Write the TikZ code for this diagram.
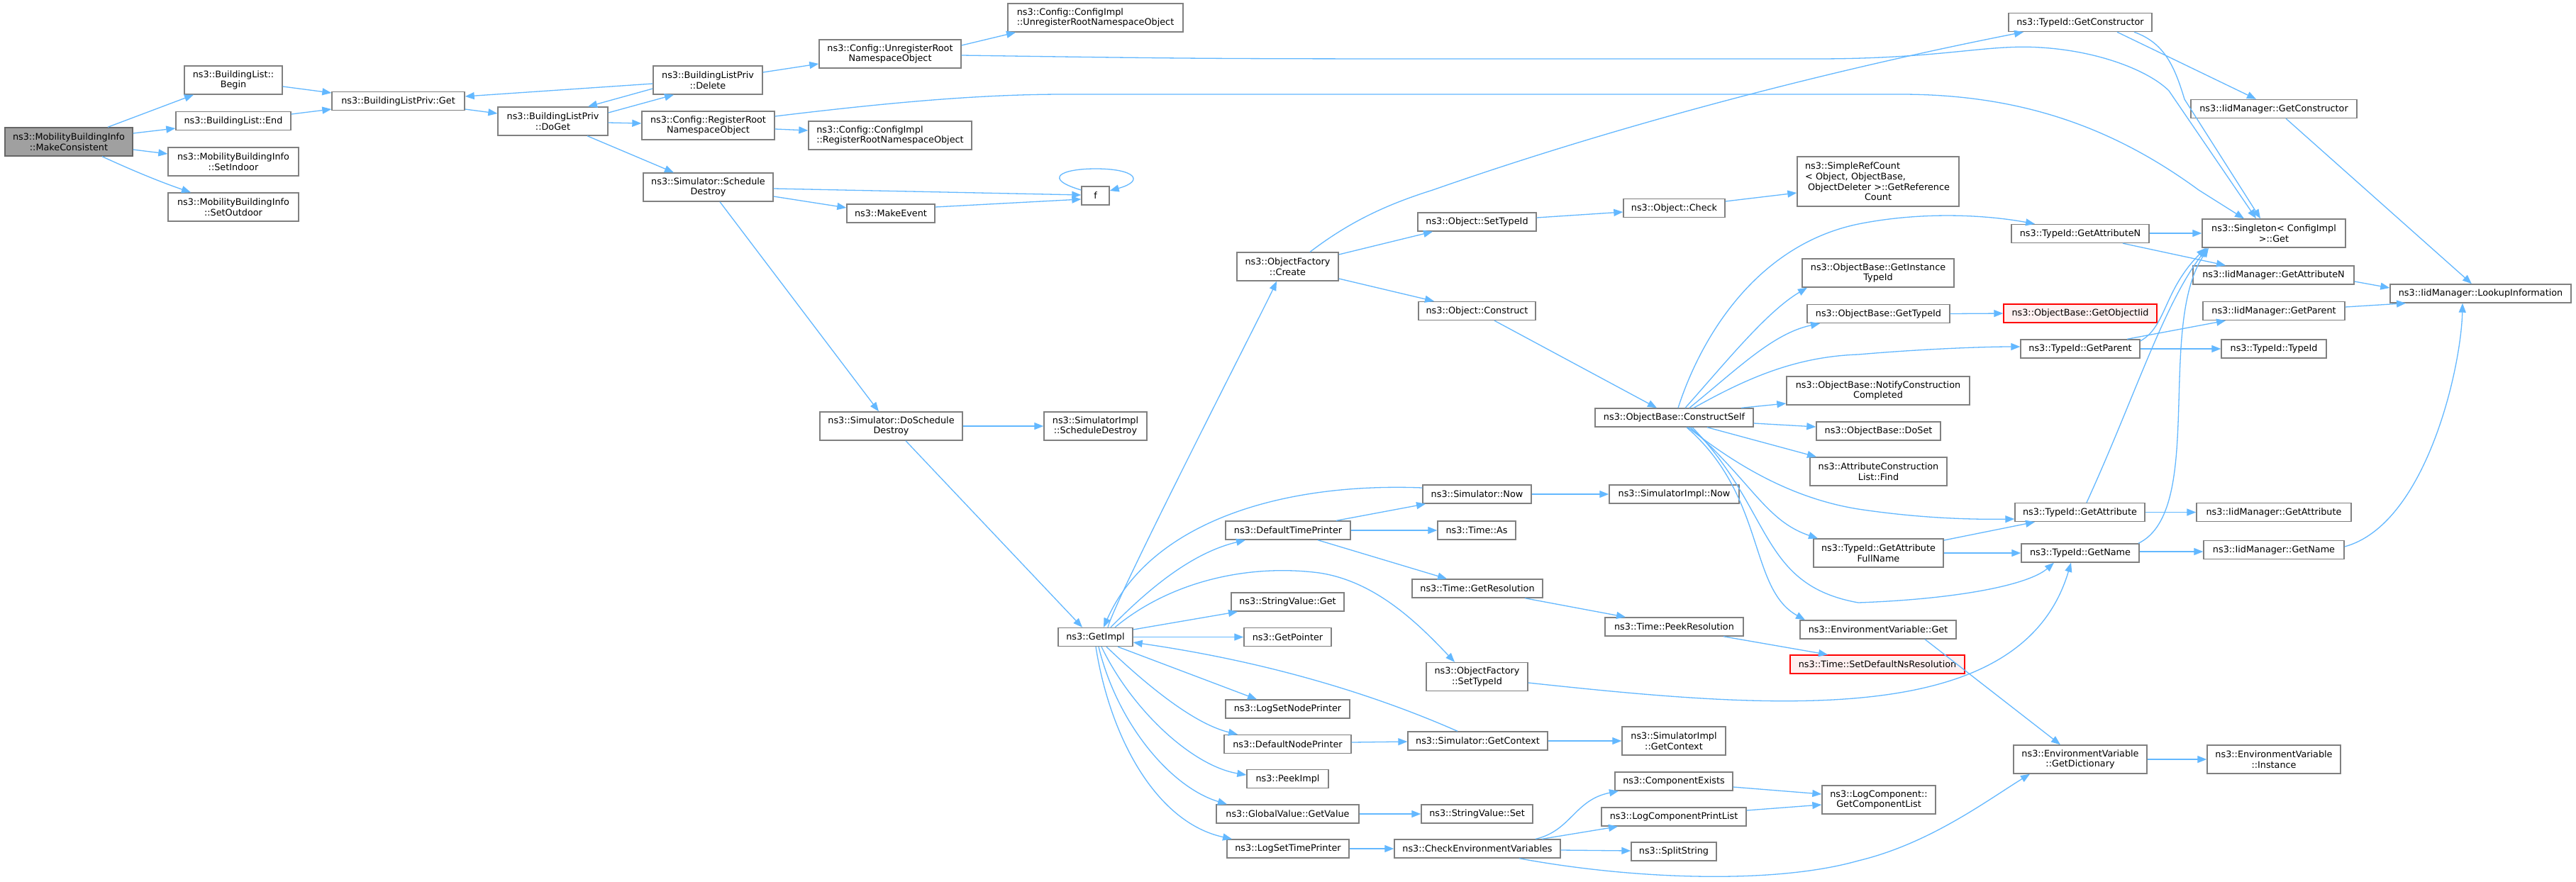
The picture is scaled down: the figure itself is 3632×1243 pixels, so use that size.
\documentclass[tikz,border=0pt]{standalone}
\usepackage{fontspec}
\setmainfont{DejaVu Sans}
\usetikzlibrary{arrows.meta}
\definecolor{edgeblue}{HTML}{63B8FF}
\definecolor{boxgray}{HTML}{808080}
\definecolor{rootfill}{HTML}{A0A0A0}
\definecolor{rootdraw}{HTML}{666666}
\definecolor{pinkfill}{HTML}{FFF0F0}
\begin{document}
\begin{tikzpicture}[x=1pt,y=-1pt,
  nb/.style={draw=boxgray, fill=white, line width=1.4pt, inner sep=0pt, align=center,
    font=\fontsize{12.8pt}{14.6pt}\selectfont, minimum height=26pt},
  nb2/.style={nb, minimum height=40pt},
  nbl/.style={nb2, align=left},
  rootnode/.style={nb2, fill=rootfill, draw=rootdraw},
  rednode/.style={nb, draw=red, fill=pinkfill},
  ed/.style={draw=edgeblue, line width=1.3pt, -{Triangle[length=13pt,width=10pt]}}]
\useasboundingbox (0,0) rectangle (3632,1243);
\fill[white] (0,0) rectangle (3632,1243);

% rank 0-5
\node[rootnode, minimum width=180pt] (mc) at (97,200) {ns3::MobilityBuildingInfo\\::MakeConsistent};
\node[nb2, minimum width=138pt] (begin) at (329,113) {ns3::BuildingList::\\Begin};
\node[nb, minimum width=162pt] (end) at (329,170.5) {ns3::BuildingList::End};
\node[nb2, minimum width=184pt] (setin) at (329,228) {ns3::MobilityBuildingInfo\\::SetIndoor};
\node[nb2, minimum width=184pt] (setout) at (329,292) {ns3::MobilityBuildingInfo\\::SetOutdoor};
\node[nb, minimum width=187pt] (get) at (561.5,142.5) {ns3::BuildingListPriv::Get};
\node[nb2, minimum width=155pt] (dog) at (779.5,171) {ns3::BuildingListPriv\\::DoGet};
\node[nb2, minimum width=154pt] (del) at (998,113) {ns3::BuildingListPriv\\::Delete};
\node[nb2, minimum width=187pt] (regroot) at (998.5,177) {ns3::Config::RegisterRoot\\NamespaceObject};
\node[nb2, minimum width=183pt] (schd) at (998.5,264) {ns3::Simulator::Schedule\\Destroy};
\node[nb2, minimum width=200pt] (unreg) at (1255,76) {ns3::Config::UnregisterRoot\\NamespaceObject};
\node[nbl, minimum width=230pt] (cireg) at (1255,191) {ns3::Config::ConfigImpl\\::RegisterRootNamespaceObject};
\node[nb, minimum width=124pt] (mkev) at (1256,301) {ns3::MakeEvent};
\node[nb2, minimum width=201pt] (dosched) at (1256.5,601) {ns3::Simulator::DoSchedule\\Destroy};
% rank 6
\node[nbl, minimum width=247pt] (ciunreg) at (1544.5,25) {ns3::Config::ConfigImpl\\::UnregisterRootNamespaceObject};
\node[nb, minimum width=39pt] (f) at (1544.5,276) {f};
\node[nb2, minimum width=145pt] (simsched) at (1544.5,601) {ns3::SimulatorImpl\\::ScheduleDestroy};
\node[nb, minimum width=105pt] (getimpl) at (1544.5,898.5) {ns3::GetImpl};
% rank 7
\node[nb2, minimum width=143pt] (create) at (1815.5,376) {ns3::ObjectFactory\\::Create};
\node[nb, minimum width=176pt] (dtp) at (1816,748) {ns3::DefaultTimePrinter};
\node[nb, minimum width=159pt] (svget) at (1815.5,849) {ns3::StringValue::Get};
\node[nb, minimum width=123pt] (getptr) at (1815.5,898.5) {ns3::GetPointer};
\node[nb, minimum width=175pt] (lsnp) at (1815.5,1000) {ns3::LogSetNodePrinter};
\node[nb, minimum width=179pt] (dnp) at (1815.5,1049.5) {ns3::DefaultNodePrinter};
\node[nb, minimum width=115pt] (peek) at (1815.5,1098.5) {ns3::PeekImpl};
\node[nb, minimum width=201pt] (gvget) at (1815.5,1148) {ns3::GlobalValue::GetValue};
\node[nb, minimum width=172pt] (lstp) at (1816,1197) {ns3::LogSetTimePrinter};
% rank 8
\node[nb, minimum width=167pt] (osettid) at (2082.5,313) {ns3::Object::SetTypeId};
\node[nb, minimum width=165pt] (ocons) at (2082.5,438.5) {ns3::Object::Construct};
\node[nb, minimum width=153pt] (snow) at (2082.5,697) {ns3::Simulator::Now};
\node[nb, minimum width=110pt] (tas) at (2082,748) {ns3::Time::As};
\node[nb, minimum width=184pt] (tgetres) at (2083,830) {ns3::Time::GetResolution};
\node[nb2, minimum width=143pt] (ofsettid) at (2082.5,954.5) {ns3::ObjectFactory\\::SetTypeId};
\node[nb, minimum width=197pt] (sgetctx) at (2083.5,1045) {ns3::Simulator::GetContext};
\node[nb, minimum width=157pt] (svset) at (2082.5,1148) {ns3::StringValue::Set};
\node[nb, minimum width=234pt] (chkenv) at (2083,1197) {ns3::CheckEnvironmentVariables};
% rank 9
\node[nb, minimum width=143pt] (ocheck) at (2360.5,293.5) {ns3::Object::Check};
\node[nb, minimum width=223pt] (cself) at (2360.5,589) {ns3::ObjectBase::ConstructSelf};
\node[nb, minimum width=183pt] (simnow) at (2360.5,697) {ns3::SimulatorImpl::Now};
\node[nb, minimum width=195pt] (peekres) at (2360.5,884) {ns3::Time::PeekResolution};
\node[nb2, minimum width=146pt] (simctx) at (2360,1045) {ns3::SimulatorImpl\\::GetContext};
\node[nb, minimum width=166pt] (compex) at (2360,1102) {ns3::ComponentExists};
\node[nb, minimum width=204pt] (lcpl) at (2360,1152) {ns3::LogComponentPrintList};
\node[nb, minimum width=120pt] (split) at (2360,1201) {ns3::SplitString};
% rank 10
\node[nb, minimum width=228pt, minimum height=70pt, align=left, text width=206pt] (srefc) at (2648,256)
  {ns3::SimpleRefCount\\< Object, ObjectBase,\\\hspace*{4pt}ObjectDeleter >::GetReference\\\makebox[206pt]{Count}};
\node[nb2, minimum width=214pt] (ginst) at (2648,385) {ns3::ObjectBase::GetInstance\\TypeId};
\node[nb, minimum width=201pt] (gtid) at (2648.5,442.5) {ns3::ObjectBase::GetTypeId};
\node[nb2, minimum width=258pt] (notify) at (2648,551) {ns3::ObjectBase::NotifyConstruction\\Completed};
\node[nb, minimum width=175pt] (doset) at (2648.5,608) {ns3::ObjectBase::DoSet};
\node[nb2, minimum width=193pt] (find) at (2648.5,665) {ns3::AttributeConstruction\\List::Find};
\node[nb2, minimum width=183pt] (fullname) at (2648.5,780) {ns3::TypeId::GetAttribute\\FullName};
\node[nb, minimum width=220pt] (envget) at (2648,888) {ns3::EnvironmentVariable::Get};
\node[rednode, minimum width=246pt] (setdef) at (2647,937) {ns3::Time::SetDefaultNsResolution};
\node[nb2, minimum width=160pt] (gcl) at (2649,1128) {ns3::LogComponent::\\GetComponentList};
% rank 11
\node[nb, minimum width=202pt] (tgc) at (2933,31.5) {ns3::TypeId::GetConstructor};
\node[nb, minimum width=194pt] (tgan) at (2933,329.5) {ns3::TypeId::GetAttributeN};
\node[rednode, minimum width=216pt] (goiid) at (2933,442) {ns3::ObjectBase::GetObjectIid};
\node[nb, minimum width=168pt] (tgp) at (2933,492) {ns3::TypeId::GetParent};
\node[nb, minimum width=183pt] (tga) at (2932.5,722.5) {ns3::TypeId::GetAttribute};
\node[nb, minimum width=166pt] (tgn) at (2933,780) {ns3::TypeId::GetName};
\node[nb2, minimum width=188pt] (gdict) at (2933,1071) {ns3::EnvironmentVariable\\::GetDictionary};
% rank 12
\node[nb, minimum width=234pt] (igc) at (3206,153.5) {ns3::IidManager::GetConstructor};
\node[nb2, minimum width=202pt] (single) at (3206,329) {ns3::Singleton< ConfigImpl\\>::Get};
\node[nb, minimum width=227pt] (igan) at (3205.5,388) {ns3::IidManager::GetAttributeN};
\node[nb, minimum width=200pt] (igp) at (3206,438.5) {ns3::IidManager::GetParent};
\node[nb, minimum width=148pt] (ttid) at (3206,492) {ns3::TypeId::TypeId};
\node[nb, minimum width=218pt] (iga) at (3206,722.5) {ns3::IidManager::GetAttribute};
\node[nb, minimum width=198pt] (ign) at (3206,775.5) {ns3::IidManager::GetName};
\node[nb2, minimum width=188pt] (inst) at (3206,1071) {ns3::EnvironmentVariable\\::Instance};
% rank 13
\node[nb, minimum width=255pt] (lookup) at (3497.5,414) {ns3::IidManager::LookupInformation};

% ---- edges ----
\draw[ed] (mc.north -| 152,0) -- (begin.south -| 273,0);
\draw[ed] (mc.east |- 0,188) -- (end.west |- 0,181);
\draw[ed] (mc.east |- 0,211) -- (setin.west |- 0,217);
\draw[ed] (mc.south -| 144,0) .. controls (190,242) and (230,258) .. (setout.north -| 269,0);
\draw[ed] (begin.east |- 0,122) -- (get.west |- 0,131);
\draw[ed] (end.east |- 0,161) -- (get.west |- 0,154);
\draw[ed] (get.east |- 0,154) -- (dog.west |- 0,160);
\draw[ed] (dog.east |- 0,159) -- (del.south -| 950,0);
\draw[ed] (del.west |- 0,125) -- (dog.north -| 829,0);
\draw[ed] (del.west |- 0,118) -- (get.east |- 0,136);
\draw[ed] (dog.east |- 0,173) -- (regroot.west |- 0,174);
\draw[ed] (dog.south -| 828,0) -- (schd.north -| 950,0);
\draw[ed] (del.east |- 0,102) -- (unreg.west |- 0,90);
\draw[ed] (unreg.east |- 0,64) -- (ciunreg.south -| 1432,0);
\draw[ed] (unreg.east |- 0,78) .. controls (1700,83) .. (2200,83) -- (2560,83)
  .. controls (2740,83) and (2800,62) .. (2877,67)
  .. controls (2960,72) and (3030,100) .. (3058,128) -- (single.north -| 3181,0);
\draw[ed] (regroot.east |- 0,164) .. controls (1250,145) and (1380,133) .. (1500,133) -- (2680,133)
  .. controls (2850,133) and (2980,180) .. (3100,268) -- (single.north -| 3164,0);
\draw[ed] (regroot.east |- 0,182) -- (cireg.west |- 0,184);
\draw[ed] (schd.east |- 0,266) -- (f.west |- 0,275);
\draw[ed] (schd.east |- 0,277) -- (mkev.west |- 0,293);
\draw[ed] (mkev.east |- 0,292) -- (f.west |- 0,281);
\draw[ed] (f.west |- 0,268) .. controls (1470,252) and (1495,238) .. (1545,238)
  .. controls (1600,238) and (1615,255) .. (f.east |- 0,269);
\draw[ed] (schd.south -| 1015,0) -- (dosched.north -| 1239,0);
\draw[ed] (dosched) -- (simsched);
\draw[ed] (dosched.south -| 1277,0) -- (getimpl.north -| 1526,0);
\draw[ed] (getimpl.north -| 1562,0) .. controls (1572,845) and (1780,440) .. (create.south -| 1800,0);
\draw[ed] (create.north -| 1847,0) .. controls (1900,315) and (1950,290) .. (2020,268)
  .. controls (2300,170) and (2600,95) .. (tgc.south -| 2853,0);
\draw[ed] (create.east |- 0,359) -- (osettid.south -| 2020,0);
\draw[ed] (create.east |- 0,393) -- (ocons.north -| 2022,0);
\draw[ed] (osettid.east |- 0,307) -- (ocheck.west |- 0,299);
\draw[ed] (ocheck.east |- 0,284) -- (srefc.west |- 0,272);
\draw[ed] (ocons.south -| 2107,0) -- (cself.north -| 2336,0);
% ConstructSelf
\draw[ed] (cself.north -| 2366,0) .. controls (2400,470) and (2480,345) .. (2620,316)
  .. controls (2710,298) and (2800,303) .. (tgan.north -| 2869,0);
\draw[ed] (cself.north -| 2376,0) .. controls (2430,515) and (2490,440) .. (ginst.south -| 2548,0);
\draw[ed] (cself.north -| 2382,0) .. controls (2450,520) and (2500,470) .. (gtid.south -| 2566,0);
\draw[ed] (cself.north -| 2388,0) .. controls (2460,535) and (2530,503) .. (2620,500)
  .. controls (2700,493) and (2790,489) .. (tgp.west |- 0,489);
\draw[ed] (cself.north -| 2455,0) -- (notify.west |- 0,569);
\draw[ed] (cself.east |- 0,597) -- (doset.west |- 0,602);
\draw[ed] (cself.south -| 2407,0) -- (find.north -| 2561,0);
\draw[ed] (cself.south -| 2380,0) .. controls (2440,650) and (2520,702) .. (2620,718)
  .. controls (2700,730) and (2770,733) .. (tga.west |- 0,732);
\draw[ed] (cself.south -| 2383,0) .. controls (2470,680) and (2490,735) .. (fullname.north -| 2563,0);
\draw[ed] (cself.south -| 2386,0) .. controls (2500,720) and (2480,825) .. (2620,850)
  .. controls (2760,845) and (2860,825) .. (tgn.south -| 2896,0);
\draw[ed] (cself.south -| 2378,0) .. controls (2490,700) and (2465,830) .. (envget.north -| 2545,0);
% rank 10-13
\draw[ed] (gtid.east) -- (goiid.west);
\draw[ed] (tgp.north -| 2999,0) -- (igp.south -| 3138,0);
\draw[ed] (tgp.east) -- (ttid.west);
\draw[ed] (tgp.east |- 0,481) .. controls (3055,460) and (3050,410) .. (single.south -| 3110,0);
\draw[ed] (tga.north -| 2942,0) .. controls (3010,560) and (3050,430) .. (single.south -| 3112,0);
\draw[ed] (tgn.north -| 3015,0) .. controls (3110,720) and (3040,460) .. (single.south -| 3114,0);
\draw[ed] (tgan.east |- 0,329) -- (single.west |- 0,329);
\draw[ed] (tgan.south -| 2993,0) -- (igan.north -| 3138,0);
\draw[ed] (tgc.south -| 2985,0) -- (igc.north -| 3181,0);
\draw[ed] (tgc.south -| 3009,0) .. controls (3050,60) and (3065,90) .. (3080,140) -- (single.north -| 3187,0);
\draw[ed] (tga) -- (iga);
\draw[ed] (fullname.east |- 0,762) -- (tga.south -| 2869,0);
\draw[ed] (fullname.east |- 0,780) -- (tgn.west |- 0,780);
\draw[ed] (tgn.east |- 0,778) -- (ign.west |- 0,778);
\draw[ed] (igc.south -| 3223,0) -- (lookup.north -| 3485,0);
\draw[ed] (igan.east |- 0,397) -- (lookup.west |- 0,406);
\draw[ed] (igp.east |- 0,433) -- (lookup.south -| 3392,0);
\draw[ed] (ign.east |- 0,771) .. controls (3420,740) and (3470,520) .. (lookup.south -| 3472,0);
\draw[ed] (envget.south -| 2714,0) -- (gdict.north -| 2905,0);
\draw[ed] (gdict) -- (inst);
\draw[ed] (chkenv.south -| 2142,0) .. controls (2300,1240) and (2500,1248) .. (2620,1214)
  .. controls (2720,1190) and (2800,1130) .. (gdict.south -| 2862,0);
\draw[ed] (chkenv.north -| 2165,0) .. controls (2215,1172) and (2220,1128) .. (compex.south -| 2282,0);
\draw[ed] (chkenv.north -| 2174,0) -- (lcpl.south -| 2281,0);
\draw[ed] (chkenv.east |- 0,1199) -- (split.west |- 0,1200);
\draw[ed] (compex.east |- 0,1110) -- (gcl.west |- 0,1120);
\draw[ed] (lcpl.east |- 0,1143) -- (gcl.west |- 0,1135);
\draw[ed] (lstp) -- (chkenv);
\draw[ed] (gvget) -- (svset);
\draw[ed] (dnp.east |- 0,1047) -- (sgetctx.west |- 0,1046);
\draw[ed] (sgetctx) -- (simctx);
\draw[ed] (sgetctx.north -| 2055,0) .. controls (1950,985) and (1800,935) .. (getimpl.east |- 0,906);
\draw[ed] (getimpl.east |- 0,888) -- (svget.south -| 1745,0);
\draw[ed] (getimpl) -- (getptr);
\draw[ed] (getimpl.south -| 1576,0) -- (lsnp.north -| 1772,0);
\draw[ed] (getimpl.south -| 1560,0) .. controls (1610,960) and (1680,1020) .. (dnp.north -| 1745,0);
\draw[ed] (getimpl.south -| 1553,0) .. controls (1595,1000) and (1680,1080) .. (peek.west |- 0,1093);
\draw[ed] (getimpl.south -| 1549,0) .. controls (1575,1020) and (1650,1110) .. (gvget.north -| 1730,0);
\draw[ed] (getimpl.south -| 1545,0) .. controls (1565,1040) and (1630,1160) .. (lstp.north -| 1737,0);
\draw[ed] (getimpl.north -| 1566,0) .. controls (1620,830) and (1680,780) .. (dtp.south -| 1756,0);
\draw[ed] (snow.west |- 0,688) .. controls (1800,680) and (1620,740) .. (getimpl.north -| 1556,0);
\draw[ed] (getimpl.north -| 1572,0) .. controls (1650,820) and (1760,795) .. (1860,808)
  .. controls (1940,820) and (2000,880) .. (ofsettid.north -| 2051,0);
\draw[ed] (ofsettid.east |- 0,963) .. controls (2500,1000) and (2850,1030) .. (tgn.south -| 2920,0);
\draw[ed] (dtp.north -| 1884,0) -- (snow.south -| 2010,0);
\draw[ed] (dtp) -- (tas);
\draw[ed] (dtp.south -| 1858,0) -- (tgetres.north -| 2040,0);
\draw[ed] (snow) -- (simnow);
\draw[ed] (tgetres.south -| 2150,0) -- (peekres.north -| 2292,0);
\draw[ed] (peekres.south -| 2430,0) -- (setdef.north -| 2577,0);
\end{tikzpicture}
\end{document}
